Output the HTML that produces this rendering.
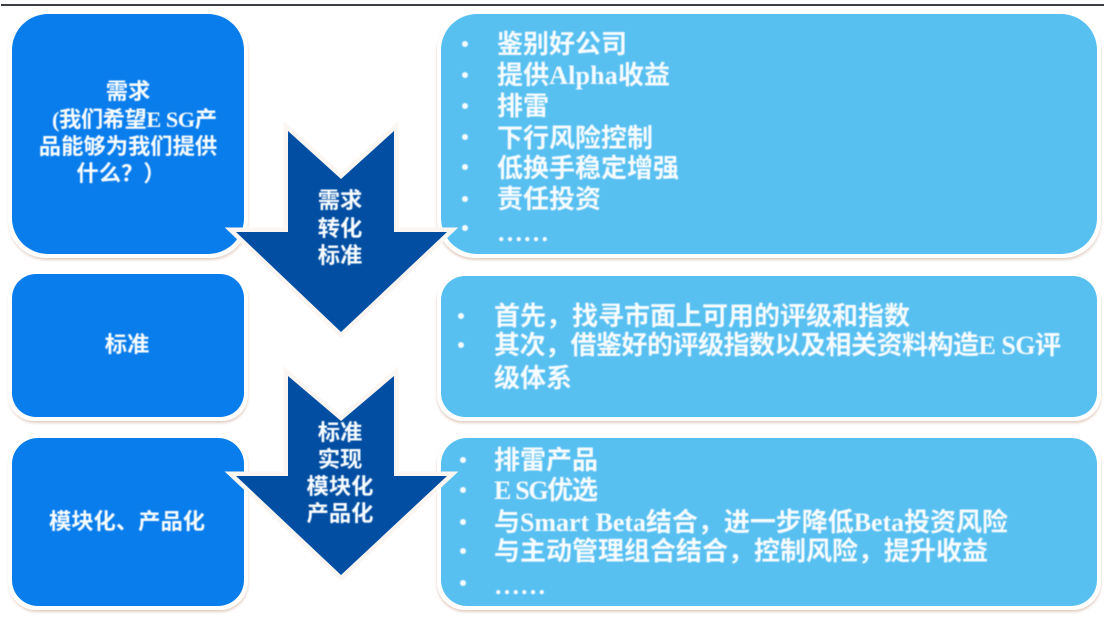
<!DOCTYPE html>
<html><head><meta charset="utf-8">
<style>
html,body{margin:0;padding:0;background:#fff;width:1104px;height:618px;overflow:hidden}
svg{display:block}
text{font-family:"Liberation Serif","Noto Sans CJK SC",serif;fill:#f6fbff}
.r{font-size:26px;font-weight:700}
.l{font-size:22.3px;font-weight:700;text-anchor:middle}
</style></head>
<body>
<svg width="1104" height="618" viewBox="0 0 1104 618" xmlns="http://www.w3.org/2000/svg">
<defs>
<filter id="s" x="-5%" y="-5%" width="110%" height="110%"><feGaussianBlur stdDeviation="1.2"/></filter>
<filter id="t" x="-5%" y="-10%" width="110%" height="120%"><feGaussianBlur stdDeviation="0.45"/></filter>
</defs>
<rect x="0" y="0" width="1104" height="618" fill="#fff"/>
<rect x="1" y="4" width="1103" height="2" fill="#3a3d42"/>

<!-- shadows -->
<g fill="#e3cfc4" filter="url(#s)">
<rect x="9" y="14" width="239" height="246" rx="38"/>
<rect x="9" y="274" width="239" height="149" rx="26"/>
<rect x="9" y="438" width="239" height="174" rx="28"/>
<rect x="437" y="14" width="664" height="246" rx="38"/>
<rect x="437" y="276" width="664" height="147" rx="26"/>
<rect x="437" y="438" width="664" height="174" rx="28"/>
</g>
<!-- white borders -->
<g fill="#fff">
<rect x="8" y="11" width="240" height="247" rx="38"/>
<rect x="8" y="271" width="240" height="150" rx="26"/>
<rect x="8" y="435" width="240" height="175" rx="28"/>
<rect x="437" y="11" width="664" height="247" rx="38"/>
<rect x="437" y="272" width="664" height="149" rx="26"/>
<rect x="437" y="435" width="664" height="175" rx="28"/>
</g>
<!-- left boxes -->
<g fill="#0a7dec">
<rect x="12" y="14" width="232" height="240" rx="36"/>
<rect x="12" y="274" width="232" height="143" rx="24"/>
<rect x="12" y="438" width="232" height="168" rx="26"/>
</g>
<!-- right boxes -->
<g fill="#58c0f1">
<rect x="441" y="14" width="656" height="240" rx="36"/>
<rect x="441" y="276" width="656" height="141" rx="24"/>
<rect x="441" y="438" width="656" height="168" rx="26"/>
</g>

<!-- arrows -->
<g fill="#024ea2" stroke="#fbf6f2" stroke-width="9" stroke-linejoin="miter" stroke-miterlimit="6" paint-order="stroke">
<polygon points="288,131 341,179 394,131 394,232 447,232 341,332 236,232 288,232"/>
<polygon points="288,376 341,421 394,376 394,476 447,476 341,575 236,476 288,476"/>
</g>

<g filter="url(#t)">
<!-- left labels -->
<text class="l" x="128" y="99">需求</text>
<text class="l" x="134.5" y="127" textLength="165">(我们希望E SG产</text>
<text class="l" x="128" y="154">品能够为我们提供</text>
<text class="l" x="121" y="181">什么？）</text>
<text class="l" x="127" y="352">标准</text>
<text class="l" x="127" y="529">模块化、产品化</text>

<!-- arrow labels -->
<text class="l" x="340" y="208">需求</text>
<text class="l" x="340" y="236">转化</text>
<text class="l" x="340" y="263">标准</text>
<text class="l" x="340" y="440">标准</text>
<text class="l" x="340" y="467">实现</text>
<text class="l" x="340" y="494">模块化</text>
<text class="l" x="340" y="521">产品化</text>

<!-- bullets -->
<g fill="#f4fbff">
<circle cx="465" cy="44" r="3"/><circle cx="465" cy="75" r="3"/><circle cx="465" cy="106" r="3"/><circle cx="465" cy="137" r="3"/><circle cx="465" cy="167" r="3"/><circle cx="465" cy="199" r="3"/><circle cx="465" cy="228" r="3"/>
<circle cx="461" cy="316" r="3"/><circle cx="461" cy="345" r="3"/>
<circle cx="463" cy="460" r="3"/><circle cx="463" cy="490" r="3"/><circle cx="463" cy="522" r="3"/><circle cx="463" cy="551" r="3"/><circle cx="463" cy="583" r="3"/>
</g>

<!-- right text box 1 -->
<text class="r" x="497" y="53">鉴别好公司</text>
<text class="r" x="497" y="84" textLength="173">提供Alpha收益</text>
<text class="r" x="497" y="115">排雷</text>
<text class="r" x="497" y="147">下行风险控制</text>
<text class="r" x="497" y="177">低换手稳定增强</text>
<text class="r" x="497" y="208">责任投资</text>
<text class="r" x="497" y="241" textLength="52" lengthAdjust="spacingAndGlyphs">……</text>

<!-- right text box 2 -->
<text class="r" x="494" y="325">首先，找寻市面上可用的评级和指数</text>
<text class="r" x="494" y="354" textLength="567">其次，借鉴好的评级指数以及相关资料构造E SG评</text>
<text class="r" x="494" y="387">级体系</text>

<!-- right text box 3 -->
<text class="r" x="494" y="469">排雷产品</text>
<text class="r" x="494" y="499" textLength="104">E SG优选</text>
<text class="r" x="494" y="531" textLength="514">与Smart Beta结合，进一步降低Beta投资风险</text>
<text class="r" x="494" y="560">与主动管理组合结合，控制风险，提升收益</text>
<text class="r" x="494" y="594" textLength="52" lengthAdjust="spacingAndGlyphs">……</text>
</g>
</svg>
</body></html>
